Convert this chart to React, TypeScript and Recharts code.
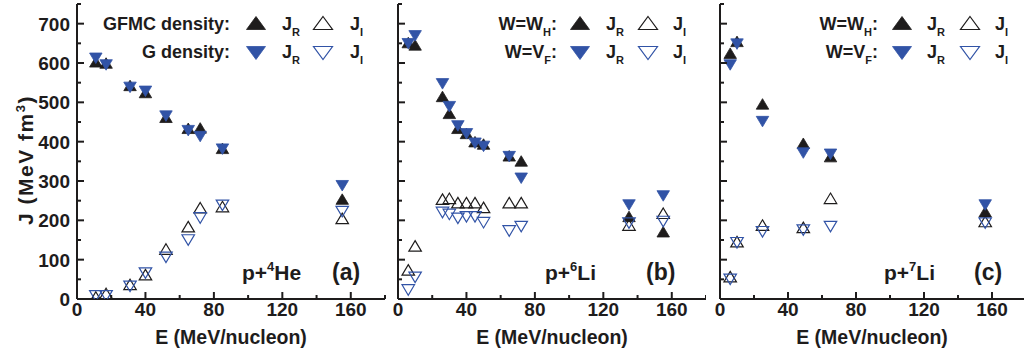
import React from 'react';
import { ScatterChart, Scatter, XAxis, YAxis } from 'recharts';

const BLUE = '#3153a6';
const INK = '#1e1c1c';
const FONT = '"Liberation Sans", Arial, Helvetica, sans-serif';

// ---- p + 4He ----
const energyHe4 = [11, 17, 31, 40, 52, 65, 72, 85, 155];
const gfmcRealHe4 = [603, 600, 543, 525, 462, 434, 435, 383, 254];
const gfmcImagHe4 = [5, 14, 37, 62, 127, 184, 232, 235, 205];
const gRealHe4 = [612, 595, 538, 528, 465, 428, 413, 381, 288];
const gImagHe4 = [8, 8, 32, 66, 106, 150, 206, 238, 222];

// ---- p + 6Li ----
const energyLi6 = [6, 10, 26, 30, 35, 40, 45, 50, 65, 72, 135, 155];
const whRealLi6 = [652, 646, 515, 472, 434, 421, 400, 394, 364, 351, 210, 171];
const whImagLi6 = [74, 135, 254, 256, 245, 245, 245, 233, 245, 245, 188, 218];
const vfRealLi6 = [649, 669, 547, 489, 440, 420, 396, 388, 362, 307, 239, 262];
const vfImagLi6 = [23, 55, 220, 215, 205, 209, 209, 194, 173, 184, 193, 197];

// ---- p + 7Li ----
const energyLi7 = [6, 10, 25, 49, 65, 156];
const whRealLi7 = [625, 655, 496, 396, 362, 222];
const whImagLi7 = [57, 146, 188, 182, 256, 197];
const vfRealLi7 = [595, 648, 451, 371, 368, 239];
const vfImagLi7 = [50, 143, 171, 175, 184, 193];

// axis ticks
const xTicks = [0, 20, 40, 60, 80, 100, 120, 140, 160, 180];
const yTicks = [0, 50, 100, 150, 200, 250, 300, 350, 400, 450, 500, 550, 600, 650, 700, 750];
const xLabelled = [0, 40, 80, 120, 160];
const yLabelled = [0, 100, 200, 300, 400, 500, 600, 700];

const pairs = (xs: number[], ys: number[]) => xs.map((x, i) => ({ x, y: ys[i] }));

const MW = 12.5;
const MH = 10.5;

const triPoints = (cx: number, cy: number, w: number, h: number, up: boolean) =>
  up
    ? `${cx},${cy - h / 2} ${cx + w / 2},${cy + h / 2} ${cx - w / 2},${cy + h / 2}`
    : `${cx - w / 2},${cy - h / 2} ${cx + w / 2},${cy - h / 2} ${cx},${cy + h / 2}`;

const makeShape = (up: boolean, color: string, filled: boolean) => (p: any) => (
  <polygon
    points={triPoints(p.cx, p.cy, MW, MH, up)}
    fill={filled ? color : 'none'}
    stroke={color}
    strokeWidth={filled ? 0.8 : 1.2}
    strokeLinejoin="miter"
  />
);

const tickText = {
  fontFamily: FONT,
  fontWeight: 700,
  fontSize: 19,
  fill: INK,
};

const BottomTick = (p: any) => {
  const v = p.payload.value;
  const major = v % 40 === 0;
  return (
    <g>
      <line x1={p.x} x2={p.x} y1={p.y} y2={p.y - (major ? 7 : 4)} stroke={INK} strokeWidth={2} />
      {xLabelled.includes(v) && (
        <text x={p.x} y={p.y + 17} textAnchor="middle" {...tickText}>
          {v}
        </text>
      )}
    </g>
  );
};

const TopTick = (p: any) => {
  const v = p.payload.value;
  const major = v % 40 === 0;
  return <line x1={p.x} x2={p.x} y1={p.y} y2={p.y + (major ? 7 : 4)} stroke={INK} strokeWidth={2} />;
};

const makeLeftTick = (withLabels: boolean) => (p: any) => {
  const v = p.payload.value;
  const major = v % 100 === 0;
  return (
    <g>
      <line x1={p.x} x2={p.x + (major ? 7 : 4)} y1={p.y} y2={p.y} stroke={INK} strokeWidth={2} />
      {withLabels && yLabelled.includes(v) && (
        <text x={p.x - 7} y={p.y + 7} textAnchor="end" {...tickText}>
          {v}
        </text>
      )}
    </g>
  );
};

const RightTick = (p: any) => {
  const v = p.payload.value;
  const major = v % 100 === 0;
  return <line x1={p.x} x2={p.x - (major ? 7 : 4)} y1={p.y} y2={p.y} stroke={INK} strokeWidth={2} />;
};

const axisLine = { stroke: INK, strokeWidth: 2 };

type PanelProps = {
  left: number;
  width: number;
  yAxisWidth: number;
  marginRight: number;
  showYLabels: boolean;
  energy: number[];
  upFilled: number[];
  upOpen: number[];
  downFilled: number[];
  downOpen: number[];
};

const Panel = (pp: PanelProps) => (
  <div style={{ position: 'absolute', left: pp.left, top: 0 }}>
    <ScatterChart
      width={pp.width}
      height={356}
      margin={{ top: 4, right: pp.marginRight, bottom: 0, left: 0 }}
    >
      <XAxis
        type="number"
        dataKey="x"
        domain={[0, 180]}
        ticks={xTicks}
        interval={0}
        allowDataOverflow
        height={57}
        tickSize={0}
        tickMargin={0}
        tickLine={false}
        axisLine={axisLine}
        tick={BottomTick}
      />
      <XAxis
        xAxisId="top"
        orientation="top"
        type="number"
        dataKey="x"
        domain={[0, 180]}
        ticks={xTicks}
        interval={0}
        allowDataOverflow
        height={0}
        tickSize={0}
        tickMargin={0}
        tickLine={false}
        axisLine={axisLine}
        tick={TopTick}
      />
      <YAxis
        type="number"
        dataKey="y"
        domain={[0, 750]}
        ticks={yTicks}
        interval={0}
        allowDataOverflow
        width={pp.yAxisWidth}
        tickSize={0}
        tickMargin={0}
        tickLine={false}
        axisLine={axisLine}
        tick={makeLeftTick(pp.showYLabels)}
      />
      <YAxis
        yAxisId="right"
        orientation="right"
        type="number"
        dataKey="y"
        domain={[0, 750]}
        ticks={yTicks}
        interval={0}
        allowDataOverflow
        width={0}
        tickSize={0}
        tickMargin={0}
        tickLine={false}
        axisLine={axisLine}
        tick={RightTick}
      />
      <Scatter data={pairs(pp.energy, pp.upFilled)} shape={makeShape(true, INK, true)} isAnimationActive={false} />
      <Scatter data={pairs(pp.energy, pp.downFilled)} shape={makeShape(false, BLUE, true)} isAnimationActive={false} />
      <Scatter data={pairs(pp.energy, pp.upOpen)} shape={makeShape(true, INK, false)} isAnimationActive={false} />
      <Scatter data={pairs(pp.energy, pp.downOpen)} shape={makeShape(false, BLUE, false)} isAnimationActive={false} />
    </ScatterChart>
  </div>
);

const txt = { fontFamily: FONT, fontWeight: 700, fill: INK };

const LegendTri = ({ cx, cy, up, color, filled }: any) => (
  <polygon
    points={triPoints(cx, cy, 19, 13, up)}
    fill={filled ? color : 'none'}
    stroke={color}
    strokeWidth={filled ? 0.8 : 1.2}
  />
);

const JSym = ({ x, y, sub }: any) => (
  <text x={x} y={y} fontSize={18} {...txt}>
    J
    <tspan dy={6} fontSize={11}>
      {sub}
    </tspan>
  </text>
);

const LegendBlock = ({ textEnd, row1, row2, triX, jrX, openX, jiX }: any) => (
  <g>
    <text x={textEnd} y={29.5} textAnchor="end" fontSize={18} {...txt}>
      {row1}
    </text>
    <text x={textEnd} y={57.5} textAnchor="end" fontSize={18} {...txt}>
      {row2}
    </text>
    <LegendTri cx={triX} cy={23} up color={INK} filled />
    <JSym x={jrX} y={29.5} sub="R" />
    <LegendTri cx={openX} cy={23} up color={INK} filled={false} />
    <JSym x={jiX} y={29.5} sub="I" />
    <LegendTri cx={triX} cy={53} up={false} color={BLUE} filled />
    <JSym x={jrX} y={57.5} sub="R" />
    <LegendTri cx={openX} cy={53} up={false} color={BLUE} filled={false} />
    <JSym x={jiX} y={57.5} sub="I" />
  </g>
);

const SubLabel = ({ main, sub }: any) => (
  <>
    {main}
    <tspan dy={6} fontSize={11}>
      {sub}
    </tspan>
    <tspan dy={-6}>:</tspan>
  </>
);

const Nucleus = ({ x, y, mass, symbol }: any) => (
  <text x={x} y={y} fontSize={21} {...txt}>
    p+
    <tspan dy={-9} fontSize={13}>
      {mass}
    </tspan>
    <tspan dy={9}>{symbol}</tspan>
  </text>
);

const Overlay = () => (
  <svg
    width={1024}
    height={356}
    style={{ position: 'absolute', left: 0, top: 0, pointerEvents: 'none' }}
  >
    {/* y title */}
    <text
      transform="translate(33,160) rotate(-90)"
      textAnchor="middle"
      fontSize={21}
      letterSpacing={1.5}
      {...txt}
    >
      J (MeV fm
      <tspan dy={-8} fontSize={13}>
        3
      </tspan>
      <tspan dy={8}>)</tspan>
    </text>
    {/* x titles */}
    {[231, 552, 872].map((cx) => (
      <text key={cx} x={cx} y={344} textAnchor="middle" fontSize={19.5} {...txt}>
        E (MeV/nucleon)
      </text>
    ))}

    <LegendBlock
      textEnd={230}
      row1="GFMC density:"
      row2="G density:"
      triX={256}
      jrX={282}
      openX={323}
      jiX={350}
    />
    <LegendBlock
      textEnd={557}
      row1={<SubLabel main="W=W" sub="H" />}
      row2={<SubLabel main="W=V" sub="F" />}
      triX={580}
      jrX={606}
      openX={648}
      jiX={673}
    />
    <LegendBlock
      textEnd={878}
      row1={<SubLabel main="W=W" sub="H" />}
      row2={<SubLabel main="W=V" sub="F" />}
      triX={902}
      jrX={927}
      openX={970}
      jiX={995}
    />

    <Nucleus x={242} y={280} mass="4" symbol="He" />
    <text x={332} y={280} fontSize={23} {...txt}>(a)</text>
    <Nucleus x={545} y={280} mass="6" symbol="Li" />
    <text x={646} y={280} fontSize={23} {...txt}>(b)</text>
    <Nucleus x={884} y={280} mass="7" symbol="Li" />
    <text x={974} y={280} fontSize={23} {...txt}>(c)</text>
  </svg>
);

export default function App() {
  return (
    <div
      style={{
        position: 'fixed',
        left: 0,
        top: 0,
        width: 1024,
        height: 356,
        overflow: 'hidden',
        background: '#ffffff',
      }}
    >
      <Panel
        left={0}
        width={390}
        yAxisWidth={77}
        marginRight={5}
        showYLabels
        energy={energyHe4}
        upFilled={gfmcRealHe4}
        upOpen={gfmcImagHe4}
        downFilled={gRealHe4}
        downOpen={gImagHe4}
      />
      <Panel
        left={388}
        width={318}
        yAxisWidth={10}
        marginRight={0}
        showYLabels={false}
        energy={energyLi6}
        upFilled={whRealLi6}
        upOpen={whImagLi6}
        downFilled={vfRealLi6}
        downOpen={vfImagLi6}
      />
      <Panel
        left={710}
        width={316}
        yAxisWidth={10}
        marginRight={0}
        showYLabels={false}
        energy={energyLi7}
        upFilled={whRealLi7}
        upOpen={whImagLi7}
        downFilled={vfRealLi7}
        downOpen={vfImagLi7}
      />
      <Overlay />
    </div>
  );
}
